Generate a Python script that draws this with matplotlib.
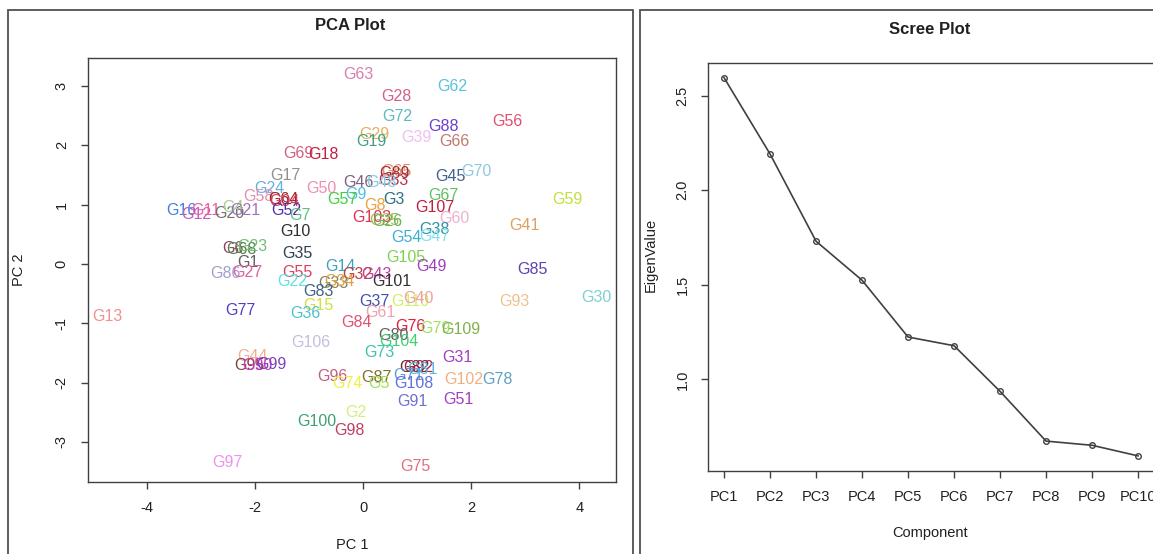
import matplotlib
matplotlib.use("Agg")
import matplotlib.pyplot as plt
from matplotlib.patches import Rectangle

plt.rcParams['font.family'] = ['Liberation Sans', 'DejaVu Sans']
plt.rcParams['axes.unicode_minus'] = False

# ---- PCA data ----
labels = ["G63","G62","G28","G72","G88","G56","G29","G39","G19","G66",
          "G69","G18","G17","G65","G89","G53","G45","G70","G46","G48",
          "G24","G50","G9","G57","G58","G64","G94","G3","G8","G67",
          "G107","G59","G16","G12","G11","G20","G4","G21","G52","G7",
          "G10","G103","G25","G26","G60","G41","G38","G47","G54","G6",
          "G68","G23","G1","G86","G27","G35","G105","G49","G85","G14",
          "G32","G43","G101","G55","G22","G33","G34","G83","G15","G36",
          "G37","G110","G40","G93","G30","G13","G77","G61","G84","G76",
          "G79","G109","G80","G104","G106","G73","G31","G44","G95","G90",
          "G99","G82","G92","G81","G71","G108","G96","G74","G87","G5",
          "G102","G78","G91","G51","G2","G100","G98","G97","G75"]
pc1 = [-0.10, 1.64, 0.62, 0.62, 1.49, 2.66, 0.20, 0.98, 0.15, 1.68,
       -1.21, -0.74, -1.45, 0.62, 0.58, 0.55, 1.61, 2.09, -0.10, 0.34,
       -1.74, -0.78, -0.13, -0.39, -1.95, -1.48, -1.46, 0.57, 0.21, 1.49,
       1.32, 3.77, -3.37, -3.10, -2.91, -2.49, -2.41, -2.18, -1.42, -1.18,
       -1.26, 0.15, 0.38, 0.45, 1.68, 2.98, 1.31, 1.32, 0.79, -2.41,
       -2.25, -2.05, -2.14, -2.56, -2.14, -1.22, 0.78, 1.26, 3.13, -0.43,
       -0.11, 0.25, 0.53, -1.22, -1.32, -0.55, -0.45, -0.83, -0.83, -1.08,
       0.21, 0.87, 1.02, 2.79, 4.31, -4.73, -2.28, 0.32, -0.13, 0.87,
       1.34, 1.81, 0.55, 0.66, -0.97, 0.30, 1.74, -2.06, -2.11, -1.96,
       -1.70, 0.94, 1.02, 1.09, 0.83, 0.94, -0.58, -0.30, 0.25, 0.28,
       1.85, 2.49, 0.91, 1.75, -0.14, -0.87, -0.26, -2.51, 0.96]
pc2 = [3.20, 2.99, 2.82, 2.48, 2.32, 2.40, 2.19, 2.13, 2.07, 2.06,
       1.87, 1.84, 1.50, 1.56, 1.52, 1.41, 1.47, 1.56, 1.37, 1.37,
       1.28, 1.27, 1.18, 1.08, 1.13, 1.08, 1.05, 1.08, 0.99, 1.15,
       0.95, 1.09, 0.90, 0.83, 0.90, 0.86, 0.96, 0.90, 0.90, 0.81,
       0.55, 0.78, 0.74, 0.71, 0.76, 0.65, 0.58, 0.46, 0.45, 0.26,
       0.24, 0.30, 0.03, -0.16, -0.14, 0.17, 0.11, -0.04, -0.09, -0.05,
       -0.18, -0.18, -0.29, -0.15, -0.30, -0.33, -0.29, -0.46, -0.70, -0.84,
       -0.63, -0.64, -0.58, -0.63, -0.57, -0.88, -0.79, -0.81, -0.99, -1.05,
       -1.09, -1.11, -1.21, -1.31, -1.33, -1.49, -1.58, -1.56, -1.71, -1.71,
       -1.70, -1.74, -1.74, -1.77, -1.88, -2.01, -1.89, -2.01, -1.92, -2.01,
       -1.94, -1.95, -2.31, -2.28, -2.50, -2.66, -2.81, -3.34, -3.41]
label_colors = ["#d87fb0","#5bc0de","#d0608a","#5fb8c0","#6a3fcf","#e05070","#e0b060","#f0c0f0","#40a080","#c07870",
                "#d06080","#c02040","#909090","#e09070","#a03030","#c03050","#406090","#90c8e0","#806080","#80d0e0",
                "#60b0e0","#f090b0","#50c0e0","#40d040","#e090b0","#a02030","#d04050","#307080","#f0a040","#60c060",
                "#c02040","#c0e040","#4080e0","#c060c0","#f060a0","#707070","#a0d090","#a070c0","#5030b0","#60c080",
                "#303030","#e03050","#a0c060","#70b050","#f0b0d0","#e0a060","#3090a0","#80e0f0","#40b0d0","#904060",
                "#508050","#70c070","#606060","#a0a0d0","#e060a0","#304050","#80d050","#a040c0","#6040b0","#40a0c0",
                "#c04040","#c040a0","#303030","#e04060","#60e0e0","#808060","#e0a040","#406080","#d0e040","#50c0d0",
                "#4050b0","#d0f060","#f0a0a0","#f0c090","#80d0d0","#f09090","#5040c0","#f0a0b0","#e05070","#e02040",
                "#a0e060","#80b050","#606060","#40d070","#c0c0e0","#40c0b0","#a040c0","#f0b090","#804040","#c040c0",
                "#8040c0","#603030","#b02040","#60b0e0","#60a0d0","#6070e0","#c06080","#f0f040","#807030","#a0e060",
                "#f0b080","#60a0c0","#7070d0","#a040c0","#d0f080","#40a070","#c04060","#f090f0","#e07080"]

# ---- Scree data ----
components = ["PC1","PC2","PC3","PC4","PC5","PC6","PC7","PC8","PC9","PC10"]
eigenvalues = [2.594, 2.191, 1.730, 1.524, 1.224, 1.178, 0.937, 0.674, 0.652, 0.596]

W, H = 1153, 554
fig = plt.figure(figsize=(W/100, H/100), dpi=100)
fig.patch.set_facecolor("white")

def fx(px): return px / W
def fy(py): return 1 - py / H

# panel borders
fig.add_artist(Rectangle((fx(8), fy(560)), fx(633) - fx(8), fy(10) - fy(560),
                         transform=fig.transFigure, fill=False, edgecolor="#505050", lw=1.3))
fig.add_artist(Rectangle((fx(640), fy(560)), fx(1160) - fx(640), fy(10) - fy(560),
                         transform=fig.transFigure, fill=False, edgecolor="#505050", lw=1.3))

spine_col = "#404040"
tick_fs = 10.5
lab_fs = 11.5
axis_fs = 10.5
title_fs = 12

def style(ax):
    for s in ax.spines.values():
        s.set_color(spine_col)
        s.set_linewidth(1.0)
    ax.tick_params(direction="out", length=5, width=1.0, color=spine_col,
                   labelsize=tick_fs, labelcolor="#202020", pad=6)

# ---- PCA axes ----
ax1 = fig.add_axes([fx(88.3), fy(482), fx(615.7) - fx(88.3), fy(58.5) - fy(482)])
style(ax1)
for lab, x, y, c in zip(labels, pc1, pc2, label_colors):
    ax1.text(x, y, lab, ha="center", va="center", color=c, fontsize=lab_fs)
xr = max(pc1) - min(pc1)
yr = max(pc2) - min(pc2)
ax1.set_xlim(min(pc1) - 0.04 * xr, max(pc1) + 0.04 * xr)
ax1.set_ylim(min(pc2) - 0.04 * yr, max(pc2) + 0.04 * yr)
ax1.set_xticks([-4, -2, 0, 2, 4])
ax1.set_yticks([-3, -2, -1, 0, 1, 2, 3])
for t in ax1.get_yticklabels():
    t.set_rotation(90)
    t.set_va("center")
ax1.tick_params(axis="x", pad=9)
ax1.tick_params(axis="y", pad=9)
fig.text(fx(350), fy(25), "PCA Plot", ha="center", va="center", fontsize=title_fs, fontweight="bold", color="#202020")
fig.text(fx(352), fy(545), "PC 1", ha="center", va="center", fontsize=axis_fs, color="#202020")
fig.text(fx(19), fy(270), "PC 2", ha="center", va="center", fontsize=axis_fs, rotation=90, color="#202020")

# ---- Scree axes ----
ax2 = fig.add_axes([fx(707.5), fy(471), fx(1154.6) - fx(707.5), fy(62.6) - fy(471)])
style(ax2)
xs = list(range(1, len(components) + 1))
ax2.plot(xs, eigenvalues, color="#404040", lw=1.2, marker="o", markersize=4,
         markerfacecolor="none", markeredgecolor="#404040", markeredgewidth=1.0)
er = max(eigenvalues) - min(eigenvalues)
ax2.set_xlim(1 - 0.04 * 9, len(components) + 0.04 * 9)
ax2.set_ylim(min(eigenvalues) - 0.04 * er, max(eigenvalues) + 0.04 * er)
ax2.set_xticks(xs)
ax2.set_xticklabels(components)
ax2.set_yticks([1.0, 1.5, 2.0, 2.5])
ax2.set_yticklabels(["1.0", "1.5", "2.0", "2.5"])
for t in ax2.get_yticklabels():
    t.set_rotation(90)
    t.set_va("center")
ax2.tick_params(axis="x", pad=9)
ax2.tick_params(axis="y", pad=8)
fig.text(fx(930), fy(30), "Scree Plot", ha="center", va="center", fontsize=title_fs, fontweight="bold", color="#202020")
fig.text(fx(930), fy(533), "Component", ha="center", va="center", fontsize=axis_fs, color="#202020")
fig.text(fx(651), fy(255), "EigenValue", ha="center", va="center", fontsize=axis_fs, rotation=90, color="#202020")

fig.savefig("out.png", dpi=100)
